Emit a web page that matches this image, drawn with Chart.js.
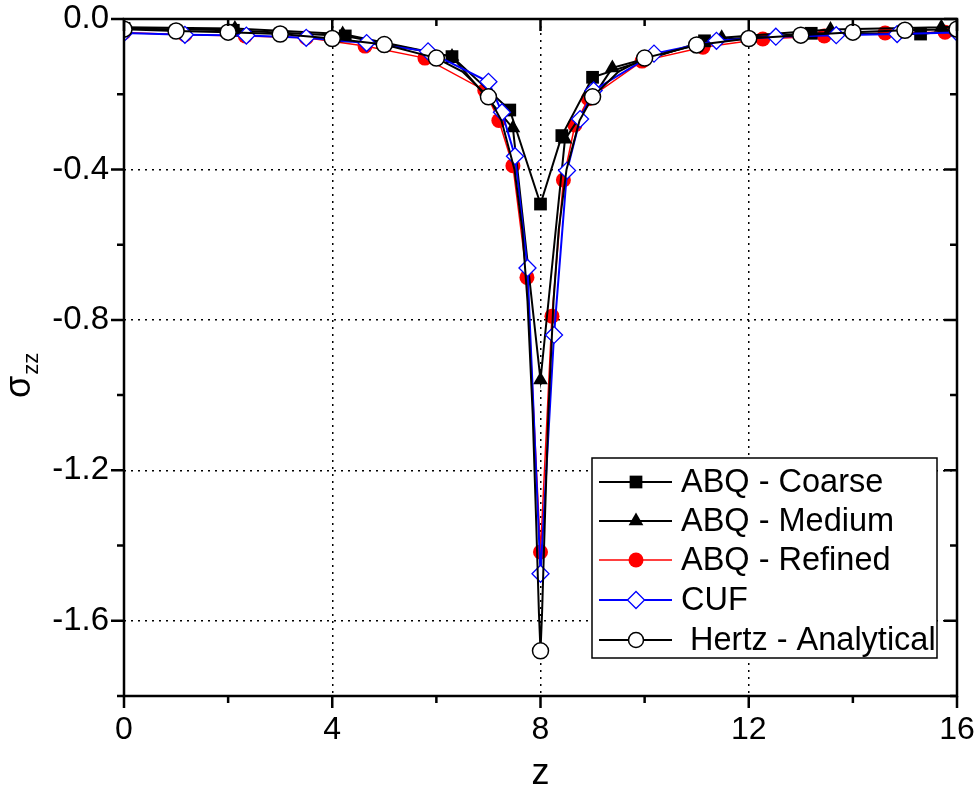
<!DOCTYPE html>
<html>
<head>
<meta charset="utf-8">
<script src="https://cdn.jsdelivr.net/npm/chart.js@4.4.0/dist/chart.umd.min.js"></script>
<style>
  body { margin: 0; background: #fff; }
  canvas { display: block; }
</style>
</head>
<body>
<canvas id="graficoSigma" width="976" height="798"></canvas>
<script>
// values
const coarseZ = [0, 2.1, 4.25, 6.3, 7.41, 8.0, 8.41, 9.0, 11.15, 13.2, 15.3, 16];
const coarseS = [-0.025, -0.03, -0.045, -0.1, -0.242, -0.492, -0.31, -0.155, -0.058, -0.038, -0.04, -0.03];

const mediumZ = [0, 2.13, 4.2, 6.3, 7.47, 8.0, 8.47, 9.38, 11.48, 13.57, 15.7, 16];
const mediumS = [-0.022, -0.025, -0.04, -0.1, -0.29, -0.96, -0.32, -0.13, -0.05, -0.028, -0.022, -0.02];

const refinedZ = [0, 1.17, 2.33, 3.5, 4.63, 5.78, 6.93, 7.2, 7.47, 7.74, 8.0, 8.22, 8.44, 8.66, 8.92, 9.95, 11.12, 12.27, 13.45, 14.62, 15.77];
const refinedS = [-0.036, -0.042, -0.045, -0.05, -0.072, -0.104, -0.19, -0.27, -0.39, -0.687, -1.417, -0.79, -0.428, -0.282, -0.212, -0.112, -0.075, -0.053, -0.045, -0.037, -0.035];

const cufZ = [0, 1.17, 2.35, 3.5, 4.66, 5.84, 7.0, 7.26, 7.51, 7.75, 8.0, 8.26, 8.51, 8.76, 9.02, 10.18, 11.38, 12.52, 13.68, 14.85, 16];
const cufS = [-0.037, -0.042, -0.044, -0.05, -0.064, -0.086, -0.167, -0.248, -0.365, -0.662, -1.475, -0.84, -0.403, -0.266, -0.19, -0.092, -0.058, -0.047, -0.043, -0.04, -0.036];

// analytical curve (symbols only at whole z)
const hertzZ = [0, 1, 2, 3, 4, 5, 6, 6.5, 7, 7.25, 7.5, 7.65, 7.75, 7.85, 7.92, 7.97, 8, 8.03, 8.08, 8.15, 8.25, 8.35, 8.5, 8.75, 9, 9.5, 10, 11, 12, 13, 14, 15, 16];
const hertzS = [-0.027, -0.032, -0.035, -0.04, -0.052, -0.068, -0.104, -0.14, -0.207, -0.27, -0.4, -0.56, -0.75, -1.05, -1.35, -1.58, -1.68, -1.58, -1.35, -1.05, -0.75, -0.56, -0.4, -0.27, -0.207, -0.14, -0.104, -0.069, -0.052, -0.043, -0.035, -0.03, -0.027];

const seriesNames = ["ABQ - Coarse", "ABQ - Medium", "ABQ - Refined", "CUF", " Hertz - Analytical"];

const xTicks = [0, 4, 8, 12, 16];
const xMinor = [2, 6, 10, 14];
const yTicks = [0, -0.4, -0.8, -1.2, -1.6];
const yMinor = [-0.2, -0.6, -1.0, -1.4, -1.8];

const FONT = "'Liberation Sans', Arial, sans-serif";

const toPoints = (zs, ss) => zs.map((z, i) => ({ x: z, y: ss[i] }));

const datasets = [
  {
    label: seriesNames[0], data: toPoints(coarseZ, coarseS),
    borderColor: "#000", borderWidth: 2,
    pointStyle: "rect", pointRadius: 9, pointBackgroundColor: "#000", pointBorderColor: "#000", pointBorderWidth: 0,
    order: 2,
  },
  {
    label: seriesNames[1], data: toPoints(mediumZ, mediumS),
    borderColor: "#000", borderWidth: 2,
    pointStyle: "triangle", pointRadius: 8.5, pointBackgroundColor: "#000", pointBorderColor: "#000", pointBorderWidth: 0,
    order: 3,
  },
  {
    label: seriesNames[2], data: toPoints(refinedZ, refinedS),
    borderColor: "#ff0000", borderWidth: 1.5,
    pointStyle: "circle", pointRadius: 7.5, pointBackgroundColor: "#ff0000", pointBorderColor: "#ff0000", pointBorderWidth: 0,
    order: 4,
  },
  {
    label: seriesNames[3], data: toPoints(cufZ, cufS),
    borderColor: "#0000ff", borderWidth: 2,
    pointStyle: "rectRot", pointRadius: 8.5, pointBackgroundColor: "#fff", pointBorderColor: "#0000ff", pointBorderWidth: 1.3,
    order: 1,
  },
  {
    label: seriesNames[4], data: toPoints(hertzZ, hertzS),
    borderColor: "#000", borderWidth: 2,
    pointStyle: "circle",
    pointRadius: (ctx) => (ctx.raw && Number.isInteger(ctx.raw.x) ? 8 : 0),
    pointBackgroundColor: "#fff", pointBorderColor: "#000", pointBorderWidth: 1.5,
    order: 0,
  },
];

const drawMarker = (ctx, ds, x, y) => {
  const r = typeof ds.pointRadius === "function" ? 7.5 : ds.pointRadius;
  ctx.beginPath();
  if (ds.pointStyle === "rect") {
    const s = Math.SQRT1_2 * r;
    ctx.rect(x - s, y - s, 2 * s, 2 * s);
  } else if (ds.pointStyle === "triangle") {
    ctx.moveTo(x, y - r);
    ctx.lineTo(x + r * Math.sin(2 * Math.PI / 3), y + r * 0.5);
    ctx.lineTo(x - r * Math.sin(2 * Math.PI / 3), y + r * 0.5);
    ctx.closePath();
  } else if (ds.pointStyle === "rectRot") {
    ctx.moveTo(x - r, y);
    ctx.lineTo(x, y - r);
    ctx.lineTo(x + r, y);
    ctx.lineTo(x, y + r);
    ctx.closePath();
  } else {
    ctx.arc(x, y, r, 0, Math.PI * 2);
  }
  ctx.fillStyle = ds.pointBackgroundColor;
  ctx.fill();
  if (ds.pointBorderWidth > 0) {
    ctx.lineWidth = ds.pointBorderWidth;
    ctx.strokeStyle = ds.pointBorderColor;
    ctx.stroke();
  }
};

const framePlugin = {
  id: "frame",
  afterDatasetsDraw(chart) {
    const { ctx, chartArea: a, scales } = chart;
    const xs = scales.x;
    const ys = scales.y;
    ctx.save();
    ctx.strokeStyle = "#000";
    ctx.lineWidth = 2.5;
    ctx.strokeRect(a.left, a.top, a.right - a.left, a.bottom - a.top);

    // tick marks: outside on left/bottom, inside on top/right
    ctx.beginPath();
    const tick = (list, len) => {
      list.forEach((v) => {
        const px = xs.getPixelForValue(v);
        ctx.moveTo(px, a.bottom); ctx.lineTo(px, a.bottom + len);
        ctx.moveTo(px, a.top); ctx.lineTo(px, a.top + len);
      });
    };
    const ytick = (list, len) => {
      list.forEach((v) => {
        const py = ys.getPixelForValue(v);
        ctx.moveTo(a.left, py); ctx.lineTo(a.left - len, py);
        ctx.moveTo(a.right, py); ctx.lineTo(a.right - len, py);
      });
    };
    tick(xTicks, 12);
    tick(xMinor, 7);
    ytick(yTicks, 13);
    ytick(yMinor, 7);
    ctx.stroke();

    // axis titles
    ctx.fillStyle = "#000";
    ctx.font = "36px " + FONT;
    ctx.textAlign = "center";
    ctx.textBaseline = "middle";
    ctx.fillText("z", (a.left + a.right) / 2, 774);

    ctx.save();
    ctx.translate(30, 398);
    ctx.rotate(-Math.PI / 2);
    ctx.textAlign = "left";
    ctx.textBaseline = "alphabetic";
    ctx.font = "36px " + FONT;
    ctx.fillText("σ", 0, 0);
    const w = ctx.measureText("σ").width;
    ctx.font = "22px " + FONT;
    ctx.fillText("zz", w + 1, 8);
    ctx.restore();

    // legend box
    const bx = 592, by = 458, bw = 345, bh = 200;
    ctx.fillStyle = "#fff";
    ctx.fillRect(bx, by, bw, bh);
    ctx.lineWidth = 1.5;
    ctx.strokeStyle = "#000";
    ctx.strokeRect(bx, by, bw, bh);
    const rows = [482, 521, 560, 600, 640];
    datasets.forEach((ds, i) => {
      const y = rows[i];
      ctx.beginPath();
      ctx.moveTo(599, y);
      ctx.lineTo(672, y);
      ctx.lineWidth = ds.borderWidth;
      ctx.strokeStyle = ds.borderColor;
      ctx.stroke();
      drawMarker(ctx, ds, 636, y);
      ctx.fillStyle = "#000";
      ctx.font = "32.5px " + FONT;
      ctx.textAlign = "left";
      ctx.textBaseline = "middle";
      ctx.fillText(ds.label, 681, y + 1);
    });
    ctx.restore();
  },
};

const chart = new Chart(document.getElementById("graficoSigma").getContext("2d"), {
  type: "line",
  data: { datasets },
  options: {
    responsive: false,
    animation: false,
    events: [],
    layout: { padding: { left: 0, top: 19, right: 19, bottom: 0 } },
    elements: { line: { tension: 0 } },
    plugins: {
      legend: { display: false },
      tooltip: { enabled: false },
    },
    scales: {
      x: {
        type: "linear",
        min: 0,
        max: 16,
        afterBuildTicks: (s) => { s.ticks = xTicks.map((v) => ({ value: v })); },
        afterFit: (s) => {
          s.height = 102;
          s.paddingLeft = 0;
          s.paddingRight = 0;
        },
        grid: {
          drawTicks: false,
          lineWidth: 1.5,
          color: (c) => (c.tick && (c.tick.value === 0 || c.tick.value === 16) ? "rgba(0,0,0,0)" : "#000"),
        },
        border: { display: false, dash: [2, 5] },
        ticks: {
          padding: 15,
          color: "#000",
          maxRotation: 0,
          autoSkip: false,
          font: { family: FONT, size: 32 },
          callback: (v) => String(v),
        },
      },
      y: {
        type: "linear",
        min: -1.8,
        max: 0,
        afterBuildTicks: (s) => { s.ticks = yTicks.map((v) => ({ value: v })); },
        afterFit: (s) => {
          s.width = 124;
          s.paddingTop = 0;
          s.paddingBottom = 0;
        },
        grid: {
          drawTicks: false,
          lineWidth: 1.5,
          color: (c) => (c.tick && c.tick.value === 0 ? "rgba(0,0,0,0)" : "#000"),
        },
        border: { display: false, dash: [2, 5] },
        ticks: {
          padding: 15,
          color: "#000",
          autoSkip: false,
          font: { family: FONT, size: 33 },
          callback: (v) => Number(v).toFixed(1),
        },
      },
    },
  },
  plugins: [framePlugin],
});
</script>
</body>
</html>
